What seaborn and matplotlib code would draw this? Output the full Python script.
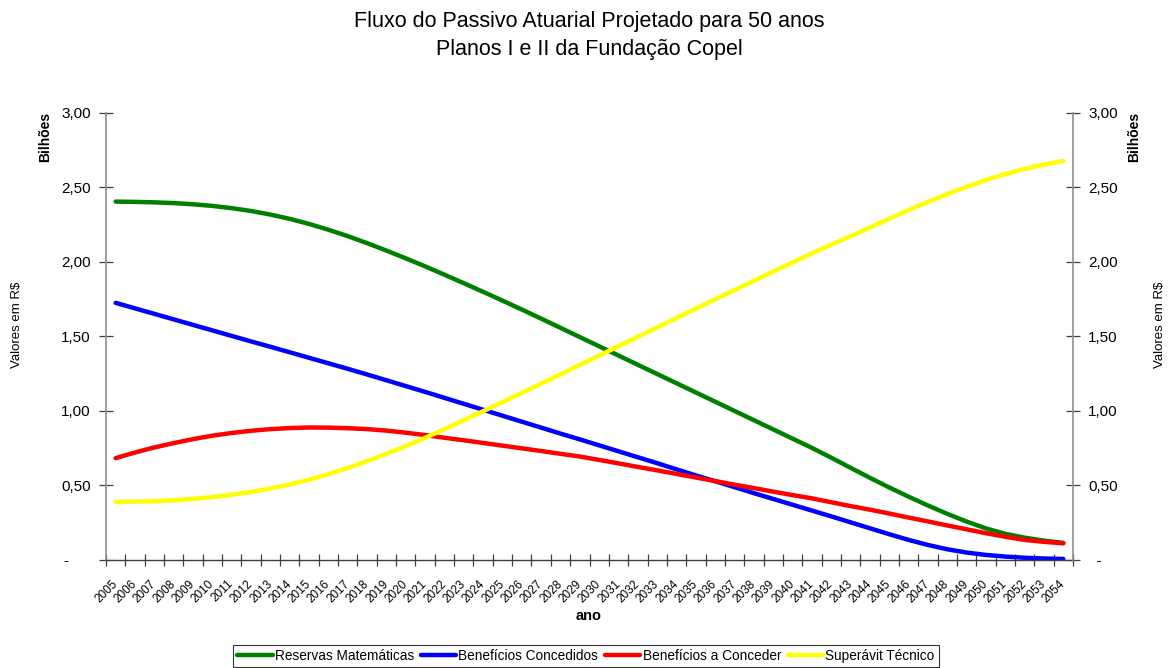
import numpy as np
import pandas as pd
import matplotlib
matplotlib.use("Agg")
import matplotlib.pyplot as plt
import seaborn as sns
from matplotlib.ticker import FixedLocator, FuncFormatter

# Anos da projeção (50 anos)
anos = list(range(2005, 2055))

# Valores em bilhões de R$
reservas = [2.405, 2.403, 2.400, 2.395, 2.387, 2.376, 2.361, 2.342, 2.318, 2.289,
            2.255, 2.216, 2.173, 2.126, 2.076, 2.024, 1.970, 1.914, 1.857, 1.799,
            1.740, 1.680, 1.619, 1.557, 1.495, 1.433, 1.371, 1.309, 1.247, 1.185,
            1.123, 1.061, 0.999, 0.937, 0.875, 0.813, 0.751, 0.685, 0.617, 0.550,
            0.485, 0.423, 0.364, 0.308, 0.256, 0.210, 0.174, 0.148, 0.128, 0.113]
concedidos = [1.725, 1.688, 1.651, 1.614, 1.577, 1.540, 1.503, 1.466, 1.430, 1.393,
              1.356, 1.319, 1.282, 1.244, 1.205, 1.166, 1.127, 1.087, 1.047, 1.007,
              0.967, 0.927, 0.887, 0.847, 0.808, 0.768, 0.728, 0.688, 0.648, 0.607,
              0.566, 0.527, 0.487, 0.447, 0.408, 0.369, 0.330, 0.291, 0.251, 0.211,
              0.171, 0.133, 0.099, 0.070, 0.048, 0.032, 0.021, 0.013, 0.008, 0.005]
a_conceder = [0.682, 0.720, 0.754, 0.783, 0.810, 0.833, 0.851, 0.866, 0.877, 0.884,
              0.888, 0.887, 0.883, 0.877, 0.867, 0.853, 0.837, 0.819, 0.802, 0.784,
              0.766, 0.748, 0.730, 0.711, 0.693, 0.670, 0.647, 0.623, 0.600, 0.576,
              0.552, 0.528, 0.504, 0.481, 0.457, 0.434, 0.412, 0.386, 0.360, 0.336,
              0.310, 0.283, 0.257, 0.230, 0.204, 0.178, 0.154, 0.133, 0.120, 0.110]
superavit = [0.389, 0.390, 0.393, 0.399, 0.408, 0.420, 0.436, 0.455, 0.478, 0.505,
             0.537, 0.574, 0.616, 0.662, 0.711, 0.763, 0.818, 0.877, 0.937, 0.997,
             1.058, 1.120, 1.182, 1.245, 1.308, 1.371, 1.434, 1.497, 1.560, 1.623,
             1.686, 1.749, 1.811, 1.873, 1.935, 1.996, 2.058, 2.116, 2.172, 2.231,
             2.290, 2.348, 2.403, 2.455, 2.504, 2.550, 2.590, 2.624, 2.653, 2.678]

nomes = ["Reservas Matemáticas", "Benefícios Concedidos",
         "Benefícios a Conceder", "Superávit Técnico"]
cores = ["#008000", "#0000FF", "#FF0000", "#FFFF00"]
y_ticks = [0.0, 0.5, 1.0, 1.5, 2.0, 2.5, 3.0]

sns.set_style("white")
plt.rcParams["font.family"] = ["Liberation Sans", "DejaVu Sans"]
plt.rcParams["text.color"] = "black"
plt.rcParams["xtick.labelcolor"] = "black"
plt.rcParams["ytick.labelcolor"] = "black"

W, H = 1172, 668
fig = plt.figure(figsize=(W / 100, H / 100), dpi=100)
fig.patch.set_facecolor("white")

def fx(px):
    return px / W

def fy(py):
    return 1 - py / H

left, right, top, bottom = 106, 1073, 113, 559.7
ax = fig.add_axes([fx(left), fy(bottom), fx(right - left), (bottom - top) / H])

idx = np.arange(len(anos))
df = pd.concat([
    pd.DataFrame({"pos": idx, "valor": vals, "serie": nome})
    for nome, vals in zip(nomes, [reservas, concedidos, a_conceder, superavit])
])

sns.lineplot(data=df, x="pos", y="valor", hue="serie", hue_order=nomes,
             palette=cores, linewidth=3.2, ax=ax, sort=False)

ax.set_xlim(-0.5, len(anos) - 0.5)
ax.set_ylim(0, 3)
ax.set_xlabel("")
ax.set_ylabel("")

# eixo X: rótulos no centro das categorias, marcas nos limites
ax.xaxis.set_major_locator(FixedLocator(idx))
ax.set_xticklabels([str(a) for a in anos], rotation=45, ha="right", va="center",
                   rotation_mode="anchor", fontsize=8.5, color="black")
ax.xaxis.set_minor_locator(FixedLocator(np.arange(-0.5, len(anos), 1.0)))
ax.tick_params(axis="x", which="major", length=0, pad=16)
ax.tick_params(axis="x", which="minor", direction="inout", length=9, width=0.9,
               color="#404040", bottom=True)

def fmt_left(v, pos):
    if abs(v) < 1e-9:
        return "-     "
    return f"{v:.2f}".replace(".", ",")

def fmt_right(v, pos):
    if abs(v) < 1e-9:
        return "  -"
    return f"{v:.2f}".replace(".", ",")

ax.yaxis.set_major_locator(FixedLocator(y_ticks))
ax.yaxis.set_major_formatter(FuncFormatter(fmt_left))
ax.tick_params(axis="y", direction="inout", length=10, width=0.9, color="#404040",
               labelsize=11, labelcolor="black", pad=6, left=True)

for s in ["top", "right"]:
    ax.spines[s].set_visible(False)
ax.spines["left"].set_color("#909090")
ax.spines["left"].set_linewidth(1.2)
ax.spines["bottom"].set_color("#404040")
ax.spines["bottom"].set_linewidth(1.0)

ax2 = ax.twinx()
ax2.set_ylim(0, 3)
ax2.yaxis.set_major_locator(FixedLocator(y_ticks))
ax2.yaxis.set_major_formatter(FuncFormatter(fmt_right))
ax2.tick_params(axis="y", direction="inout", length=10, width=0.9, color="#404040",
                labelsize=11, labelcolor="black", pad=6, right=True)
for s in ["top", "left", "bottom"]:
    ax2.spines[s].set_visible(False)
ax2.spines["right"].set_color("#909090")
ax2.spines["right"].set_linewidth(1.2)

# legenda
handles, labels = ax.get_legend_handles_labels()
ax.get_legend().remove()
leg = fig.legend(handles, labels, loc="center", bbox_to_anchor=(fx(586), fy(656)),
                 ncol=4, frameon=True, fancybox=False, edgecolor="#000000",
                 fontsize=9.8, handlelength=2.6, handletextpad=0.15,
                 columnspacing=0.5, borderpad=0.3, borderaxespad=0,
                 labelcolor="black")
leg.get_frame().set_linewidth(0.8)
for ln in leg.get_lines():
    ln.set_linewidth(3.2)

# títulos e rótulos
fig.text(fx(589), fy(21), "Fluxo do Passivo Atuarial Projetado para 50 anos",
         ha="center", va="center", fontsize=15.5, color="black")
fig.text(fx(589), fy(50), "Planos I e II da Fundação Copel",
         ha="center", va="center", fontsize=15.5, color="black")
fig.text(fx(589), fy(616), "ano", ha="center", va="center", fontsize=10.5,
         fontweight="bold", color="black")
fig.text(fx(45), fy(137), "Bilhões", ha="center", va="center", rotation=90,
         fontsize=10, fontweight="bold", color="black")
fig.text(fx(1134), fy(137), "Bilhões", ha="center", va="center", rotation=90,
         fontsize=10, fontweight="bold", color="black")
fig.text(fx(17), fy(325), "Valores em R$", ha="center", va="center", rotation=90,
         fontsize=9.5, color="black")
fig.text(fx(1160), fy(325), "Valores em R$", ha="center", va="center", rotation=90,
         fontsize=9.5, color="black")

fig.savefig("out.png", dpi=100, facecolor="white")
